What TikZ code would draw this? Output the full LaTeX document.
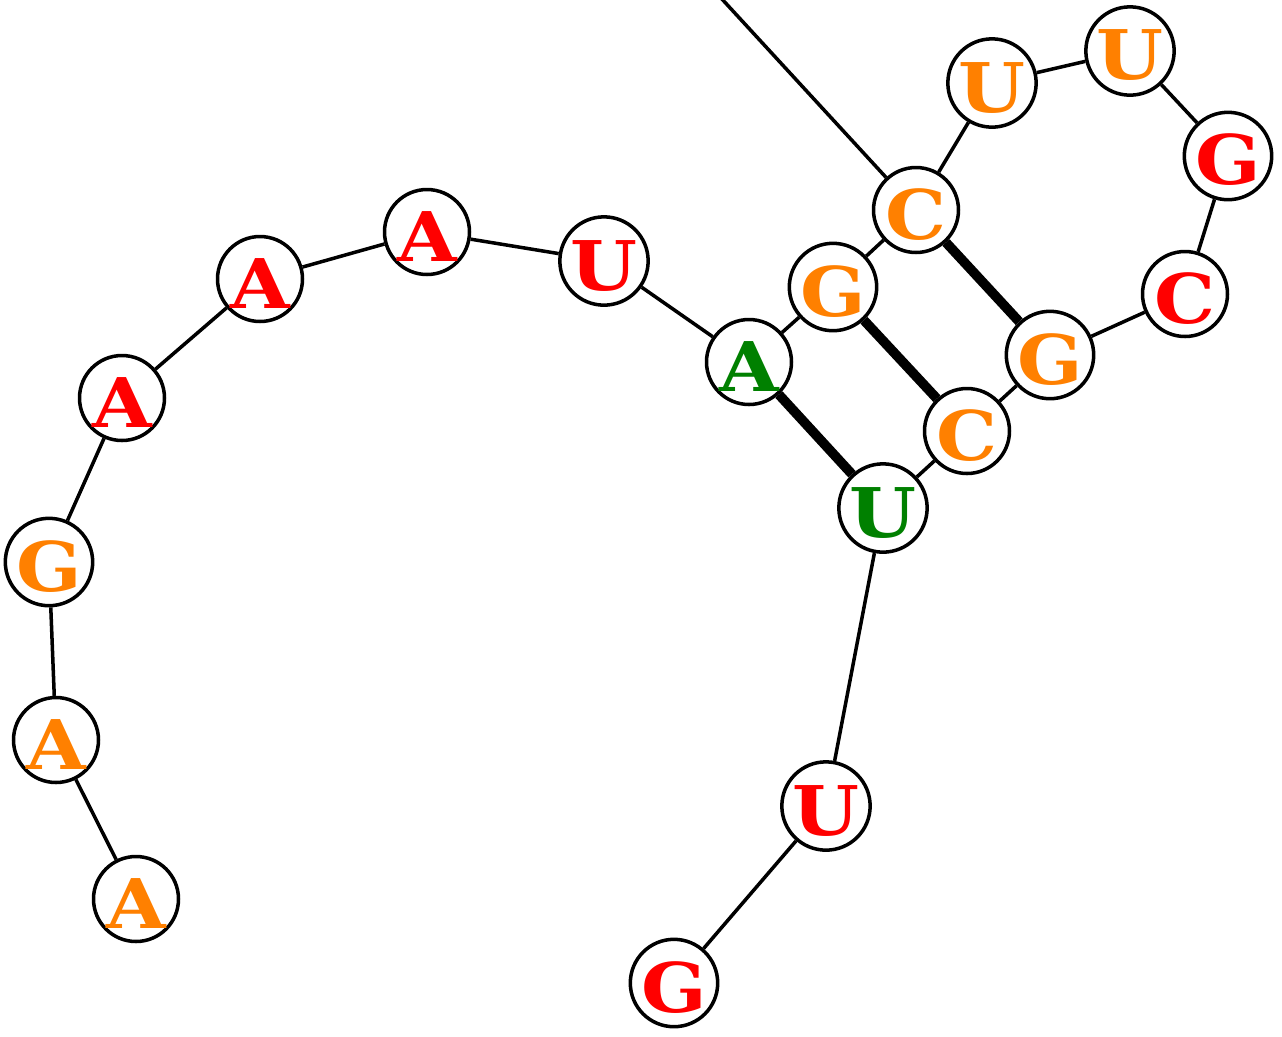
\documentclass[tikz,border=0pt]{standalone}
\usepackage{fontspec}
\newfontfamily\basefont[FakeStretch=1.12]{DejaVu Serif}
\definecolor{nucred}{RGB}{255,0,0}
\definecolor{nucorange}{RGB}{255,128,0}
\definecolor{nucgreen}{RGB}{0,128,0}

\begin{document}
\begin{tikzpicture}[
    x=0.02cm, y=-0.02cm,
    base/.style={circle, draw, line width=2pt, fill=white, minimum size=1.7cm, inner sep=0pt, text height=33pt, text depth=0pt, font=\basefont\bfseries\fontsize{39}{39}\selectfont},
    bred/.style={base, text=nucred},
    borange/.style={base, text=nucorange},
    bgreen/.style={base, text=nucgreen},
    link/.style={line width=2pt},
    pair/.style={line width=5.5pt}
]
    \useasboundingbox (0,0) rectangle (1282,1036);

    \node[borange] (a1) at (136,899) {A};
    \node[borange] (a2) at (56,740) {A};
    \node[borange] (g3) at (49,562) {G};
    \node[bred] (a4) at (122,398) {A};
    \node[bred] (a5) at (260,279) {A};
    \node[bred] (a6) at (427,232) {A};
    \node[bred] (u7) at (604,261) {U};
    \node[bgreen] (a8) at (749,362) {A};
    \node[borange] (g9) at (833,287) {G};
    \node[borange] (c10) at (916,210) {C};
    \node[borange] (u11) at (992,83) {U};
    \node[borange] (u12) at (1130,51) {U};
    \node[bred] (g13) at (1228,156) {G};
    \node[bred] (c14) at (1185,294) {C};
    \node[borange] (g15) at (1050,355) {G};
    \node[borange] (c16) at (967,431) {C};
    \node[bgreen] (u17) at (883,508) {U};
    \node[bred] (u18) at (826,806) {U};
    \node[bred] (g19) at (674,983) {G};
    \coordinate (out) at (721,-2);

    % backbone
    \draw[link] (a1) -- (a2);
    \draw[link] (a2) -- (g3);
    \draw[link] (g3) -- (a4);
    \draw[link] (a4) -- (a5);
    \draw[link] (a5) -- (a6);
    \draw[link] (a6) -- (u7);
    \draw[link] (u7) -- (a8);
    \draw[link] (a8) -- (g9);
    \draw[link] (g9) -- (c10);
    \draw[link] (c10) -- (u11);
    \draw[link] (u11) -- (u12);
    \draw[link] (u12) -- (g13);
    \draw[link] (g13) -- (c14);
    \draw[link] (c14) -- (g15);
    \draw[link] (g15) -- (c16);
    \draw[link] (c16) -- (u17);
    \draw[link] (u17) -- (u18);
    \draw[link] (u18) -- (g19);
    \draw[link] (c10) -- (out);

    % base pairs
    \draw[pair] (a8) -- (u17);
    \draw[pair] (g9) -- (c16);
    \draw[pair] (c10) -- (g15);
\end{tikzpicture}
\end{document}
